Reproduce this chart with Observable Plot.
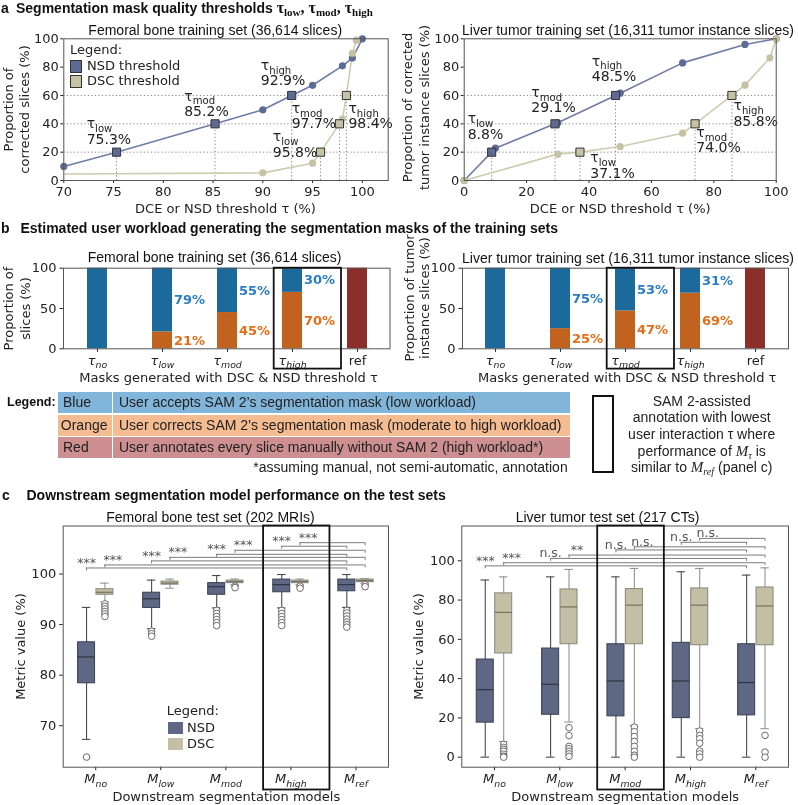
<!DOCTYPE html>
<html>
<head>
<meta charset="utf-8">
<script src="https://cdn.jsdelivr.net/npm/d3@7"></script>
<script src="https://cdn.jsdelivr.net/npm/@observablehq/plot@0.6"></script>
<style>
  html,body{margin:0;padding:0;background:#fff;}
  #fig{position:relative;width:798px;height:805px;overflow:hidden;background:#fff;font-family:"Liberation Sans",Arial,sans-serif;color:#111;}
  #overlay{position:absolute;left:0;top:0;width:798px;height:805px;z-index:2;pointer-events:none;}
  .abs{position:absolute;white-space:nowrap;}
  .head{font-weight:bold;font-size:14px;line-height:16px;}
  .tau{font-family:"Liberation Serif",serif;font-weight:bold;font-size:16px;}
  .tau sub{font-size:11px;vertical-align:-3px;line-height:0;}
  .dv{font-family:"DejaVu Sans",sans-serif;font-size:13px;line-height:16px;color:#222;}
  .sw{position:absolute;box-sizing:border-box;}
  .cell{position:absolute;box-sizing:border-box;font-size:14px;line-height:21px;white-space:nowrap;color:#222;}
  .mi{font-family:"Liberation Serif",serif;font-style:italic;font-size:15px;}
  .note sub{font-size:10px;line-height:0;vertical-align:-3px;}
</style>
</head>
<body>
<div id="fig"><div id="overlay"></div></div>
<script>
// ================= DATA =================
// Panel a — femoral bone training set (threshold %, proportion of corrected slices %)
const femNsdTau  = [70, 75.3, 85.2, 90, 92.9, 95, 98, 99, 100];
const femNsdPct  = [9.9, 20, 40, 49.9, 60, 67.2, 80.9, 86.4, 100];
const femNsdKind = ["o","s","s","o","s","o","o","o","o"];
const femDscTau  = [70, 90, 95, 95.8, 97.7, 98, 98.4, 99, 99.4];
const femDscPct  = [4.6, 5.4, 12.2, 20, 40, 43.4, 60, 89.8, 99];
const femDscKind = ["-","o","o","s","s","o","s","o","o"];
const femLabelX  = [72.3, 82.1, 89.8, 91.0, 92.9, 98.6];   // NSD low/mod/high, DSC low/mod/high
const femLabelY  = [38.8, 58.2, 80.0, 29.6, 49.4, 49.4];
// Panel a — liver tumor training set
const livNsdTau  = [0, 8.8, 10, 29.1, 30, 48.5, 50, 70, 90, 100];
const livNsdPct  = [0, 20, 22.8, 40, 40.7, 60, 61.6, 83, 96, 100];
const livNsdKind = ["o","s","o","s","o","s","o","o","o","o"];
const livDscTau  = [0, 30, 37.1, 50, 70, 74.0, 85.8, 90, 98, 100];
const livDscPct  = [0, 18.6, 20, 24, 33.4, 40, 60, 67.3, 86.6, 100];
const livDscKind = ["o","o","s","o","o","s","s","o","o","o"];
const livLabelX  = [1.1, 21.5, 40.9, 40.4, 74.4, 86.3];
const livLabelY  = [42.3, 60.7, 82.9, 14.8, 32.5, 51.2];
const tauLevels  = ["low", "mod", "high"];
const guideLevels = [20, 40, 60];
const femTauTicks = [70, 75, 80, 85, 90, 95, 100];
const livTauTicks = [0, 20, 40, 60, 80, 100];

// Panel b — workload (% of slices)
const workCats   = ["no", "low", "mod", "high", "ref"];
const femAccept  = [100, 79, 55, 30, 0];
const femCorrect = [0, 21, 45, 70, 0];
const femManual  = [0, 0, 0, 0, 100];
const livAccept  = [100, 75, 53, 31, 0];
const livCorrect = [0, 25, 47, 69, 0];
const livManual  = [0, 0, 0, 0, 100];
const legendNames = ["Blue", "Orange", "Red"];
const legendTexts = [
  "User accepts SAM 2\u2019s segmentation mask (low workload)",
  "User corrects SAM 2\u2019s segmentation mask (moderate to high workload)",
  "User annotates every slice manually without SAM 2 (high workload*)"
];

// Panel c — box statistics [lower whisker, Q1, median, Q3, upper whisker]
const models = ["no", "low", "mod", "high", "ref"];
const femNsdBox = [[67.3,78.4,83.6,86.5,93.4],[89.2,93.3,95.1,96.3,98.8],[93.3,95.9,97.5,98.2,99.7],[93.3,96.4,97.9,98.9,99.9],[93.4,96.6,97.9,98.9,99.9]];
const femDscBox = [[94.5,95.9,96.4,97.0,98.2],[97.2,97.9,98.2,98.5,99.0],[97.9,98.2,98.5,98.7,99.0],[97.9,98.2,98.5,98.7,99.0],[98.2,98.4,98.7,98.9,99.1]];
const femNsdOut = [[63.8],[88.7,88.2,87.7],[92.8,92.2,91.6,91.0,90.4,89.8],[92.8,92.2,91.6,91.0,90.4,89.8],[92.8,92.3,91.7,91.1,90.5,90.0,89.5]];
const femDscOut = [[94.1,93.6,93.1,92.6,92.1,91.6],[],[97.6,97.3],[97.6,97.2],[97.9,97.5]];
const femSig  = [["***","***"],["***","***"],["***","***"],["***","***"]];
const femSigY = [[101.2,101.8],[102.6,103.3],[103.9,104.7],[105.5,106.2]];
const livNsdBox = [[0,17.6,34.4,49.7,90.2],[0,21.6,37.1,55.3,91.8],[0,20.8,38.8,57.5,91.8],[0,19.9,38.8,58.2,94.4],[0,21.3,38.0,57.5,92.7]];
const livDscBox = [[8.0,52.8,73.7,83.4,91.8],[17.9,57.5,76.5,85.4,95.6],[16.2,57.5,77.4,85.6,96.1],[14.5,57.0,77.4,85.9,96.1],[14.5,57.0,77.0,86.4,96.4]];
const livNsdOut = [[],[],[],[],[]];
const livDscOut = [[6.5,5,4,3,1.5,0.5,0],[15,11,5.5,4.3,3,1.7,0.4],[15.3,13,10.5,8,5.5,3,1,0],[13.3,11.1,9.4,7.1,3.1,1.7,0],[11.1,2.6,0]];
const livSig  = [["***","***"],["n.s.","**"],["n.s.","n.s."],["n.s.","n.s."]];
const livSigY = [[97.4,99.0],[101.2,102.9],[105.5,107.1],[109.4,111.4]];

// ================= STYLE =================
const W = 798, H = 805;
const NSD_LINE = "#6e7ca6", NSD_MARK = "#5d6a93", DSC_LINE = "#cfcbb1", DSC_MARK = "#c6c2a3";
const BAR = {accept: "#1b6a9b", correct: "#c1621f", manual: "#8c2f2b"};
const TXT = {accept: "#2b7dc1", correct: "#e46d16"};
const BOX = {NSD: "#5e6884", DSC: "#c2bfa5"};
const BOX_EDGE = {NSD: "#3f4658", DSC: "#8f8d80"};
const WHISK = {NSD: "#4a4a4a", DSC: "#939393"};
const MED = {NSD: "#2f3442", DSC: "#74725f"};
const CELL = ["#82b5da", "#f5bb91", "#cd8f8f"];
const fig = document.getElementById("fig");
const overlay = document.getElementById("overlay");
const SVGNS = "http://www.w3.org/2000/svg";

function richify(root) {
  const nodes = [...root.querySelectorAll("text, tspan")].filter(el => el.childElementCount === 0 && /[_~]\{/.test(el.textContent));
  for (const el of nodes) {
    const s = el.textContent;
    const fs = parseFloat(getComputedStyle(el).fontSize) || 13;
    const shift = fs * 0.28;
    el.textContent = "";
    const parts = s.split(/(_\{[^}]*\}|~\{[^}]*\})/).filter(p => p);
    let low = false;
    for (const p of parts) {
      const t = document.createElementNS(SVGNS, "tspan");
      let txt = p, italic = false, sub = false;
      if (p.startsWith("_{")) { sub = true; txt = p.slice(2, -1); }
      else if (p.startsWith("~{")) { italic = true; txt = p.slice(2, -1); }
      if (txt.startsWith("~")) { italic = true; txt = txt.slice(1); }
      t.textContent = txt;
      if (italic) t.setAttribute("font-style", "italic");
      if (sub) {
        t.setAttribute("font-size", (fs * 0.72).toFixed(2));
        if (!low) { t.setAttribute("dy", shift.toFixed(2)); low = true; }
      } else if (low) { t.setAttribute("dy", (-shift).toFixed(2)); low = false; }
      el.appendChild(t);
    }
  }
}

function mkPlot(frame, opts) {
  const svg = Plot.plot({
    width: W, height: H,
    marginLeft: frame.x1, marginRight: W - frame.x2, marginTop: frame.y1, marginBottom: H - frame.y2,
    style: "font-family:'DejaVu Sans',sans-serif;font-size:13px;background:transparent;overflow:visible;color:#222;position:absolute;left:0;top:0;will-change:transform;",
    ...opts
  });
  fig.insertBefore(svg, overlay);
  richify(svg);
  return svg;
}
function at(frame, cx, cy, text, o = {}) {
  return Plot.text([text], {frameAnchor: "top-left", dx: cx - frame.x1, dy: cy - frame.y1, text: d => d,
    textAnchor: "middle", lineAnchor: "middle", ...o});
}
const TITLE = {fontFamily: "Liberation Sans", fontSize: 14, fill: "#111"};
const LAB = {fontSize: 13};

// ================= PANEL A =================
function series(tau, pct, kind, metric) { return tau.map((t, i) => ({t, p: pct[i], k: kind[i], metric})); }
function panelA(frame, xDomain, xTicks, nsd, dsc, labX, labY, txt) {
  const pts = [...nsd, ...dsc];
  const sq = pts.filter(d => d.k === "s");
  const labs = sq.map((d, i) => ({tau: tauLevels[i % 3], val: d.t.toFixed(1) + "%", x: labX[i], y: labY[i]}));
  const col = d => d.metric === "NSD" ? NSD_MARK : DSC_MARK;
  mkPlot(frame, {
    x: {domain: xDomain, ticks: xTicks, tickSize: 3, tickPadding: 3, label: null},
    y: {domain: [0, 100], ticks: [0, 20, 40, 60, 80, 100], tickSize: 3, tickPadding: 2, label: null},
    marks: [
      Plot.ruleY(guideLevels, {stroke: "#8c8c8c", strokeDasharray: "1.3,2.2"}),
      Plot.ruleX(sq, {x: "t", y1: 0, y2: "p", stroke: "#8c8c8c", strokeDasharray: "1.3,2.2"}),
      Plot.line(nsd, {x: "t", y: "p", stroke: NSD_LINE, strokeWidth: 1.6}),
      Plot.line(dsc, {x: "t", y: "p", stroke: DSC_LINE, strokeWidth: 1.6}),
      Plot.dot(pts.filter(d => d.k === "o"), {x: "t", y: "p", r: 3.6, fill: col}),
      Plot.dot(sq, {x: "t", y: "p", symbol: "square", r: 4.6, fill: col, stroke: "#333", strokeWidth: 1}),
      Plot.text(labs, {x: "x", y: "y", text: d => "τ_{" + d.tau + "}", textAnchor: "start", dy: -2, fontSize: 14}),
      Plot.text(labs, {x: "x", y: "y", text: "val", textAnchor: "start", dy: 13.5, fontSize: 14}),
      Plot.frame({stroke: "#555"}),
      at(frame, txt.title[1], txt.title[2], txt.title[0], TITLE),
      at(frame, txt.xl[1], txt.xl[2], txt.xl[0], LAB),
      at(frame, txt.yl[1], txt.yl[2], txt.yl[0], {...LAB, rotate: -90, lineHeight: txt.yl[3]})
    ]
  });
}
panelA({x1: 63.3, y1: 38.3, x2: 387.7, y2: 180}, [70, 102.6], femTauTicks,
  series(femNsdTau, femNsdPct, femNsdKind, "NSD"), series(femDscTau, femDscPct, femDscKind, "DSC"), femLabelX, femLabelY,
  {title: ["Femoral bone training set (36,614 slices)", 214.7, 30], xl: ["DCE or NSD threshold τ (%)", 225, 208],
   yl: ["Proportion of\ncorrected slices (%)", 15.5, 109, 1.23]});
panelA({x1: 463.7, y1: 38.3, x2: 775.7, y2: 180}, [0, 100], livTauTicks,
  series(livNsdTau, livNsdPct, livNsdKind, "NSD"), series(livDscTau, livDscPct, livDscKind, "DSC"), livLabelX, livLabelY,
  {title: ["Liver tumor training set (16,311 tumor instance slices)", 627.5, 30], xl: ["DCE or NSD threshold τ (%)", 619.7, 208],
   yl: ["Proportion of corrected\ntumor instance slices (%)", 415, 107, 1.3]});

// ================= PANEL B =================
const typeOrder = ["correct", "accept", "manual"];
function panelB(frame, accept, correct, manual, hiCat, txt) {
  const rows = [];
  workCats.forEach((c, i) => {
    rows.push({cat: c, type: "correct", value: correct[i]}, {cat: c, type: "accept", value: accept[i]}, {cat: c, type: "manual", value: manual[i]});
  });
  mkPlot(frame, {
    x: {type: "band", domain: workCats, paddingInner: 0.7, paddingOuter: 0.35, tickSize: 3.5, tickPadding: 3,
        tickFormat: d => d === "ref" ? "ref" : "~{τ}_{~" + d + "}", label: null},
    y: {domain: [0, 100], ticks: [0, 50, 100], tickSize: 3.5, tickPadding: 3.5, label: null},
    marks: [
      Plot.barY(rows, {x: "cat", y: "value", z: "type", order: typeOrder, fill: d => BAR[d.type]}),
      Plot.text(rows, Plot.stackY({filter: d => d.type !== "manual" && d.value > 0 && d.value < 100,
        x: "cat", y: "value", z: "type", order: typeOrder, text: d => d.value + "%", fill: d => TXT[d.type],
        textAnchor: "start", dx: 11.5, fontWeight: "bold", fontSize: 13})),
      Plot.frame({stroke: "#555"}),
      Plot.barY([hiCat], {x: d => d, y1: 0, y2: 100, fill: "none", stroke: "#111", strokeWidth: 1.8,
        insetLeft: -8.3, insetRight: -39, insetBottom: -20.3}),
      at(frame, txt.title[1], txt.title[2], txt.title[0], TITLE),
      at(frame, txt.xl[1], txt.xl[2], txt.xl[0], LAB),
      at(frame, txt.yl[1], txt.yl[2], txt.yl[0], {...LAB, rotate: -90, lineHeight: txt.yl[3]})
    ]
  });
}
panelB({x1: 63, y1: 267.7, x2: 389.5, y2: 348.3}, femAccept, femCorrect, femManual, "high",
  {title: ["Femoral bone training set (36,614 slices)", 214, 257], xl: ["Masks generated with DSC & NSD threshold τ", 228, 377.7],
   yl: ["Proportion of\nslices (%)", 15.7, 308, 1.27]});
panelB({x1: 462, y1: 267.7, x2: 788, y2: 348.3}, livAccept, livCorrect, livManual, "mod",
  {title: ["Liver tumor training set (16,311 tumor instance slices)", 627.5, 258], xl: ["Masks generated with DSC & NSD threshold τ", 626.7, 377.7],
   yl: ["Proportion of tumor\ninstance slices (%)", 416.3, 297.5, 1.15]});

// ================= PANEL C =================
const DODGE = 0.141, BW = 0.26, CAP = 0.065;
function panelC(frame, yDomain, yTicks, nsdBox, dscBox, nsdOut, dscOut, sig, sigY, hiIdx, txt) {
  const boxes = [], outs = [], brackets = [], ends = [];
  const pos = (i, m) => i + (m === "NSD" ? -DODGE : DODGE);
  [["NSD", nsdBox, nsdOut], ["DSC", dscBox, dscOut]].forEach(([m, st, ou]) => {
    st.forEach((s, i) => boxes.push({m, x: pos(i, m), lo: s[0], q1: s[1], med: s[2], q3: s[3], hi: s[4]}));
    ou.forEach((arr, i) => arr.forEach(v => outs.push({m, x: pos(i, m), v})));
  });
  const tl = 3 * (yDomain[1] - yDomain[0]) / (frame.y2 - frame.y1);
  sig.forEach((pair, i) => pair.forEach((s, j) => {
    const m = j === 0 ? "NSD" : "DSC";
    const b = {m, xa: pos(i, m), xb: pos(models.length - 1, m), h: sigY[i][j], s};
    brackets.push(b);
    ends.push({x: b.xa, h: b.h}, {x: b.xb, h: b.h});
  }));
  const sigText = {x: "xa", y: "h", text: "s", lineAnchor: "bottom", fontSize: 12.5, fill: "#555"};
  mkPlot(frame, {
    x: {domain: [-0.5, 4.5], ticks: [0, 1, 2, 3, 4], tickSize: 3.5, tickPadding: 3,
        tickFormat: i => "~{M}_{~" + models[i] + "}", label: null},
    y: {domain: yDomain, ticks: yTicks, tickSize: 3.5, tickPadding: 3.5, label: null},
    marks: [
      Plot.ruleX(boxes, {x: "x", y1: "lo", y2: "hi", stroke: d => WHISK[d.m], strokeWidth: 1.1}),
      Plot.ruleY(boxes, {y: "lo", x1: d => d.x - CAP, x2: d => d.x + CAP, stroke: d => WHISK[d.m], strokeWidth: 1.1}),
      Plot.ruleY(boxes, {y: "hi", x1: d => d.x - CAP, x2: d => d.x + CAP, stroke: d => WHISK[d.m], strokeWidth: 1.1}),
      Plot.rect(boxes, {x1: d => d.x - BW / 2, x2: d => d.x + BW / 2, y1: "q1", y2: "q3", fill: d => BOX[d.m], stroke: d => BOX_EDGE[d.m], strokeWidth: 1.1}),
      Plot.ruleY(boxes, {y: "med", x1: d => d.x - BW / 2, x2: d => d.x + BW / 2, stroke: d => MED[d.m], strokeWidth: 1.2}),
      Plot.dot(outs, {x: "x", y: "v", r: 3.3, stroke: "#6a6a6a", fill: "white", strokeWidth: 1}),
      Plot.ruleY(brackets, {y: "h", x1: "xa", x2: "xb", stroke: "#7a7a7a", strokeWidth: 1}),
      Plot.ruleX(ends, {x: "x", y1: d => d.h - tl, y2: "h", stroke: "#7a7a7a", strokeWidth: 1}),
      Plot.text(brackets.filter(b => b.m === "NSD"), {...sigText, dx: 0, dy: -1}),
      Plot.text(brackets.filter(b => b.m === "DSC"), {...sigText, dx: 8, dy: -1}),
      Plot.frame({stroke: "#555"}),
      Plot.rect([hiIdx], {x1: d => d - 0.42, x2: d => d + 0.6, y1: yDomain[0], y2: yDomain[1], fill: "none", stroke: "#111", strokeWidth: 1.8,
        insetBottom: -22.8}),
      at(frame, txt.title[1], txt.title[2], txt.title[0], TITLE),
      at(frame, txt.xl[1], txt.xl[2], txt.xl[0], LAB),
      at(frame, txt.yl[1], txt.yl[2], txt.yl[0], {...LAB, rotate: -90})
    ]
  });
}
panelC({x1: 62.7, y1: 525.5, x2: 388, y2: 766.7}, [61.8, 109.5], [70, 80, 90, 100],
  femNsdBox, femDscBox, femNsdOut, femDscOut, femSig, femSigY, 3,
  {title: ["Femoral bone test set (202 MRIs)", 210, 516.7], xl: ["Downstream segmentation models", 225.8, 796.7], yl: ["Metric value (%)", 20, 646]});
panelC({x1: 461.3, y1: 525.5, x2: 788, y2: 766.7}, [-5.1, 117.7], [0, 20, 40, 60, 80, 100],
  livNsdBox, livDscBox, livNsdOut, livDscOut, livSig, livSigY, 2,
  {title: ["Liver tumor test set (217 CTs)", 607, 516.7], xl: ["Downstream segmentation models", 624.7, 796.7], yl: ["Metric value (%)", 418, 646]});

// ================= HTML overlays: headings, legends, notes =================
let html = "";
html += `<div class="abs head" style="left:1px;top:0px">a</div>
<div class="abs head" style="left:16px;top:0px">Segmentation mask quality thresholds <span class="tau">τ<sub>low</sub>, τ<sub>mod</sub>, τ<sub>high</sub></span></div>
<div class="abs head" style="left:1px;top:220px">b</div>
<div class="abs head" style="left:20.5px;top:220px">Estimated user workload generating the segmentation masks of the training sets</div>
<div class="abs head" style="left:2px;top:487px">c</div>
<div class="abs head" style="left:26.5px;top:487px">Downstream segmentation model performance on the test sets</div>`;
// panel a legend
html += `<div class="abs dv" style="left:70px;top:42px">Legend:</div>
<div class="sw" style="left:70px;top:60px;width:12px;height:12.7px;background:${NSD_MARK};border:1px solid #333"></div>
<div class="abs dv" style="left:87px;top:58.3px">NSD threshold</div>
<div class="sw" style="left:70px;top:75px;width:12px;height:12.7px;background:${DSC_MARK};border:1px solid #333"></div>
<div class="abs dv" style="left:87px;top:73px">DSC threshold</div>`;
// panel b legend table
html += `<div class="abs" style="left:7px;top:393px;font-weight:bold;font-size:12.5px;line-height:18px">Legend:</div>`;
const rowTops = [392, 414.5, 437];
legendNames.forEach((n, i) => {
  html += `<div class="cell" style="left:58.3px;top:${rowTops[i]}px;width:53.4px;height:21px;background:${CELL[i]};padding-left:${n === "Orange" ? 2.5 : 4.7}px">${n}</div>
<div class="cell" style="left:113.3px;top:${rowTops[i]}px;width:456.7px;height:21px;background:${CELL[i]};padding-left:5.7px">${legendTexts[i]}</div>`;
});
html += `<div class="abs" style="left:200px;top:459px;width:367.7px;text-align:right;font-size:14px;line-height:16px;color:#222">*assuming manual, not semi-automatic, annotation</div>`;
html += `<div class="abs" style="left:591.7px;top:395.3px;width:22.3px;height:78px;border:2px solid #111;box-sizing:border-box"></div>
<div class="abs note" style="left:601.7px;top:392.6px;width:200px;text-align:center;font-size:14px;line-height:16.7px;color:#222">SAM 2-assisted<br>annotation with lowest<br>user interaction τ where<br>performance of <span class="mi">M</span><sub class="mi" style="font-size:10px">τ</sub> is<br>similar to <span class="mi">M<sub style="font-size:10px">ref</sub></span> (panel c)</div>`;
// panel c legend
html += `<div class="abs dv" style="left:166.7px;top:702.7px">Legend:</div>
<div class="sw" style="left:168.3px;top:721.7px;width:14.4px;height:12.3px;background:${BOX.NSD}"></div>
<div class="abs dv" style="left:187px;top:720px">NSD</div>
<div class="sw" style="left:168.3px;top:738px;width:14.4px;height:12.3px;background:${BOX.DSC}"></div>
<div class="abs dv" style="left:187px;top:736px">DSC</div>`;
overlay.innerHTML = html;
</script>
</body>
</html>
